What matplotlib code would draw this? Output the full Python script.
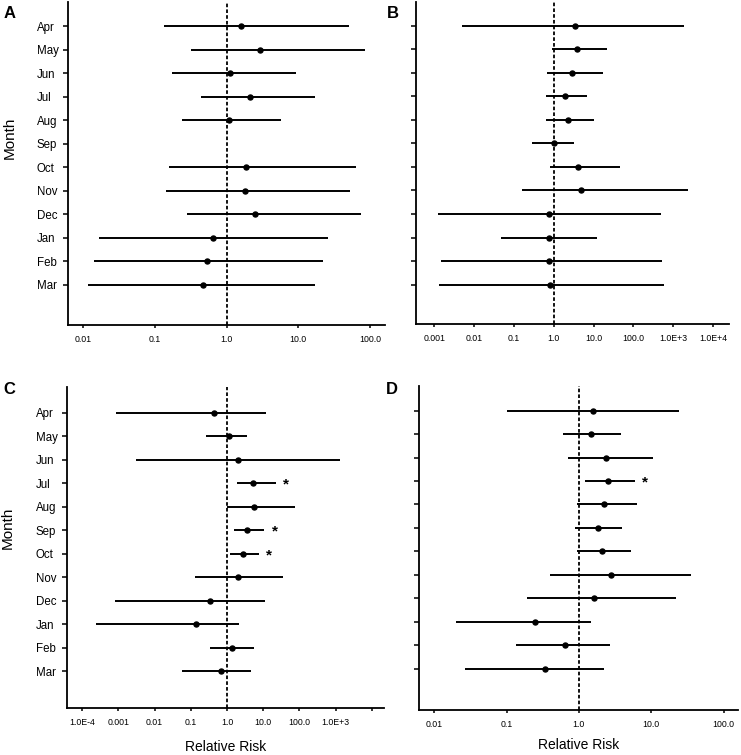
import numpy as np
import matplotlib
matplotlib.use("Agg")
import matplotlib.pyplot as plt

plt.rcParams['font.family'] = ['Liberation Sans', 'DejaVu Sans']

# datos (riesgo relativo e intervalo)
months = ['Apr', 'May', 'Jun', 'Jul', 'Aug', 'Sep', 'Oct', 'Nov', 'Dec', 'Jan', 'Feb', 'Mar']

a_rr = [1.6, 2.9, 1.11, 2.1, 1.08, np.nan, 1.9, 1.82, 2.5, 0.64, 0.53, 0.47]
a_lo = [0.136, 0.325, 0.173, 0.44, 0.236, np.nan, 0.16, 0.144, 0.283, 0.0166, 0.0141, 0.0116]
a_hi = [51, 86, 9.3, 16.9, 5.7, np.nan, 63, 53, 75, 26, 22, 17.3]

b_rr = [3.4, 3.8, 2.8, 1.88, 2.3, 1.0, 4.0, 4.8, 0.75, 0.76, 0.76, 0.82]
b_lo = [0.0051, 0.89, 0.67, 0.62, 0.64, 0.29, 0.79, 0.16, 0.00124, 0.048, 0.0015, 0.00128]
b_hi = [1845, 22, 16.9, 6.8, 10.4, 3.3, 47, 2365, 498, 12.4, 518, 592]

c_rr = [0.43, 1.14, 2.05, 5.4, 5.7, 3.6, 2.8, 2.05, 0.35, 0.14, 1.4, 0.7]
c_lo = [0.00086, 0.27, 0.0031, 1.89, 1.0, 1.6, 1.21, 0.133, 0.00082, 0.00024, 0.33, 0.058]
c_hi = [12.2, 3.6, 1324, 22, 74, 10.7, 7.5, 34.5, 11, 2.1, 5.6, 4.6]

d_rr = [1.56, 1.47, 2.4, 2.56, 2.23, 1.81, 2.1, 2.76, 1.63, 0.245, 0.64, 0.34]
d_lo = [0.10, 0.6, 0.71, 1.22, 0.93, 0.88, 0.93, 0.40, 0.19, 0.02, 0.137, 0.027]
d_hi = [24, 3.8, 10.7, 5.9, 6.3, 4.0, 5.3, 35, 22, 1.45, 2.7, 2.2]

c_sig = ['Jul', 'Sep', 'Oct']
d_sig = ['Jul']

ab_ticks = [0.01, 0.1, 1, 10, 100]
ab_labels = ['0.01', '0.1', '1.0', '10.0', '100.0']
b_ticks = [0.001, 0.01, 0.1, 1, 10, 100, 1000, 10000]
b_labels = ['0.001', '0.01', '0.1', '1.0', '10.0', '100.0', '1.0E+3', '1.0E+4']
c_ticks = [0.0001, 0.001, 0.01, 0.1, 1, 10, 100, 1000, 10000]
c_labels = ['1.0E-4', '0.001', '0.01', '0.1', '1.0', '10.0', '100.0', '1.0E+3', '']

fig = plt.figure(figsize=(7.41, 7.55), dpi=100)

W, H = 741.0, 755.0


def make_axes(left, right, top, bottom):
    return fig.add_axes([left / W, 1 - bottom / H, (right - left) / W, (bottom - top) / H])


panels = [
    # letra, rr, lo, hi, ticks, labels, xlim (log10), ylim, caja en px, marcas
    ('A', a_rr, a_lo, a_hi, ab_ticks, ab_labels, (-2.21, 2.21), (12.7, -1.02), (68, 385, 2, 325), []),
    ('B', b_rr, b_lo, b_hi, b_ticks, b_labels, (-3.46, 4.40), (12.67, -1.0), (416, 729, 2, 324), []),
    ('C', c_rr, c_lo, c_hi, c_ticks, c_labels, (-4.42, 4.34), (12.56, -1.09), (67, 384, 387, 708), c_sig),
    ('D', d_rr, d_lo, d_hi, ab_ticks, ab_labels, (-2.21, 2.20), (12.76, -1.05), (419, 738, 386, 710), d_sig),
]

letter_pos = {'A': (10, 14), 'B': (393, 13), 'C': (9, 390), 'D': (392, 390)}

y = np.arange(len(months))

for letter, rr, lo, hi, ticks, labels, xl, yl, box, sig in panels:
    ax = make_axes(*box)
    rr = np.array(rr, dtype=float)
    lo = np.array(lo, dtype=float)
    hi = np.array(hi, dtype=float)
    ok = ~np.isnan(rr)

    ax.axvline(1.0, color='black', lw=1.3, linestyle=(0, (2, 1.2)), zorder=1)
    ax.errorbar(rr[ok], y[ok], xerr=[rr[ok] - lo[ok], hi[ok] - rr[ok]], fmt='o',
                color='black', ms=3.6, elinewidth=1.4, capsize=0, zorder=3)

    for m in sig:
        i = months.index(m)
        ax.annotate('*', (hi[i], y[i]), xytext=(7.5, -1), textcoords='offset points',
                    ha='center', va='center', fontsize=11, fontweight='bold')

    ax.set_xscale('log')
    ax.set_xlim(10 ** xl[0], 10 ** xl[1])
    ax.set_ylim(*yl)
    ax.set_xticks(ticks)
    ax.set_xticklabels(labels, fontsize=6.3)
    ax.xaxis.set_minor_locator(matplotlib.ticker.NullLocator())
    ax.set_yticks(y)

    if letter in ('A', 'C'):
        ax.set_yticklabels(months, fontsize=8.3)
        for t in ax.get_yticklabels():
            t.set_horizontalalignment('left')
        ax.tick_params(axis='y', pad=19)
        ax.set_ylabel('Month', fontsize=11)
        ax.yaxis.label.set_verticalalignment('center')
        if letter == 'A':
            ax.yaxis.set_label_coords((10 - 68) / 317.0, 0.58)
        else:
            ax.yaxis.set_label_coords((8 - 67) / 317.0, 0.56)
    else:
        ax.set_yticklabels([])

    if letter in ('C', 'D'):
        ax.set_xlabel('Relative Risk', fontsize=10, labelpad=9 if letter == 'C' else 6)

    for s in ['top', 'right']:
        ax.spines[s].set_visible(False)
    for s in ['left', 'bottom']:
        ax.spines[s].set_linewidth(1.3)
    ax.tick_params(axis='x', length=2.5, width=1.1, pad=5)
    ax.tick_params(axis='y', length=3.6, width=1.1)

    lx, ly = letter_pos[letter]
    fig.text(lx / W, 1 - ly / H, letter, fontsize=12, fontweight='bold', ha='center', va='center')

fig.savefig('out.png', dpi=100)
